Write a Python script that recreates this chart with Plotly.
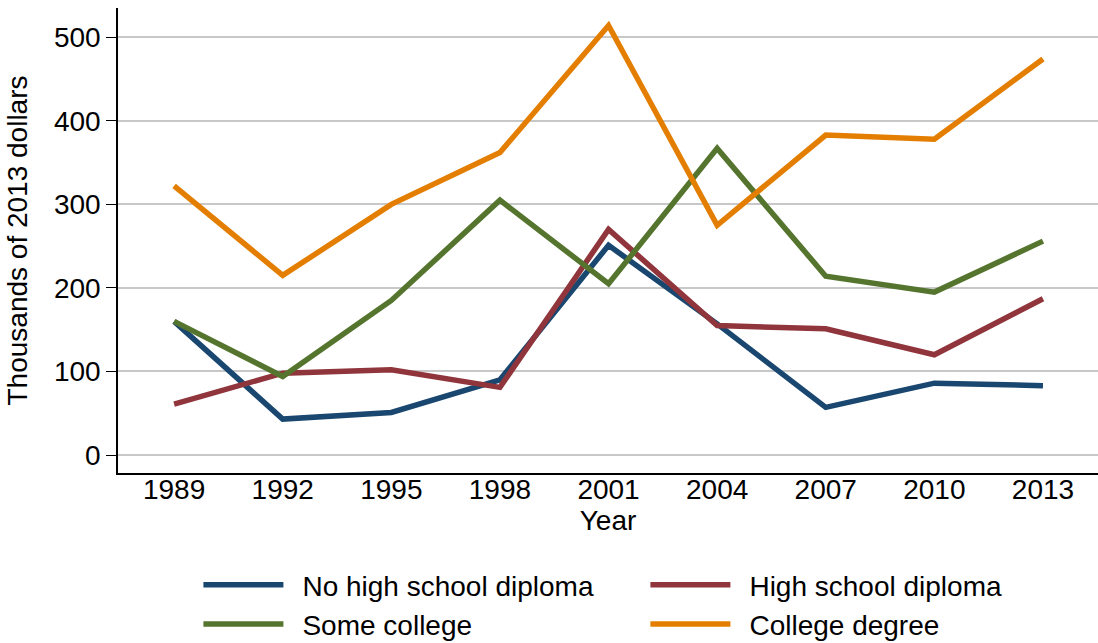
import plotly.graph_objects as go

# Survey years
years = [1989, 1992, 1995, 1998, 2001, 2004, 2007, 2010, 2013]

# Median net worth by education, thousands of 2013 dollars
no_hs = [160, 43, 51, 90, 251, 157, 57, 86, 83]
hs = [61, 98, 102, 81, 270, 155, 151, 120, 187]
some_college = [160, 94, 185, 305, 205, 367, 214, 195, 256]
college = [322, 215, 300, 362, 514, 275, 383, 378, 474]

series = [
    ("No high school diploma", no_hs, "#1a476f"),
    ("High school diploma", hs, "#90353b"),
    ("Some college", some_college, "#55752f"),
    ("College degree", college, "#e37e00"),
]

fig = go.Figure()
for name, vals, color in series:
    fig.add_trace(go.Scatter(
        x=years, y=vals, name="\u2002" + name, mode="lines",
        line=dict(color=color, width=5.5)))

font = "Liberation Sans, Arial, sans-serif"

fig.update_layout(
    width=1098, height=643,
    margin=dict(l=118, r=0, t=8, b=170),
    plot_bgcolor="white", paper_bgcolor="white",
    font=dict(family=font, size=28, color="black"),
    showlegend=True,
    legend=dict(
        orientation="h", xref="container", yref="container",
        x=0.1807, xanchor="left", y=0.1291, yanchor="top",
        entrywidth=352, entrywidthmode="pixels",
        font=dict(size=28), tracegroupgap=0, itemwidth=80),
)

fig.update_xaxes(
    range=[1987.45, 2014.52], tickvals=years, ticks="",
    showgrid=False, zeroline=False, automargin=False,
    showline=True, linecolor="black", linewidth=1.5,
    tickfont=dict(size=28), ticklabelstandoff=-9,
    title=dict(text="Year", standoff=0, font=dict(size=28)),
)
fig.update_yaxes(
    range=[-21.5, 535], tickvals=[0, 100, 200, 300, 400, 500],
    ticks="outside", ticklen=10, tickcolor="black", tickwidth=1,
    showgrid=True, gridcolor="#c8c8c8", gridwidth=2,
    zeroline=False, automargin=False,
    showline=True, linecolor="black", linewidth=1.5,
    tickfont=dict(size=28),
    title=dict(text="Thousands of 2013 dollars", standoff=18, font=dict(size=28)),
)

# drop the default body margin so the figure fills the window exactly
fig.write_html("out.html", config={"displayModeBar": False},
               post_script="document.body.style.margin='0';")
